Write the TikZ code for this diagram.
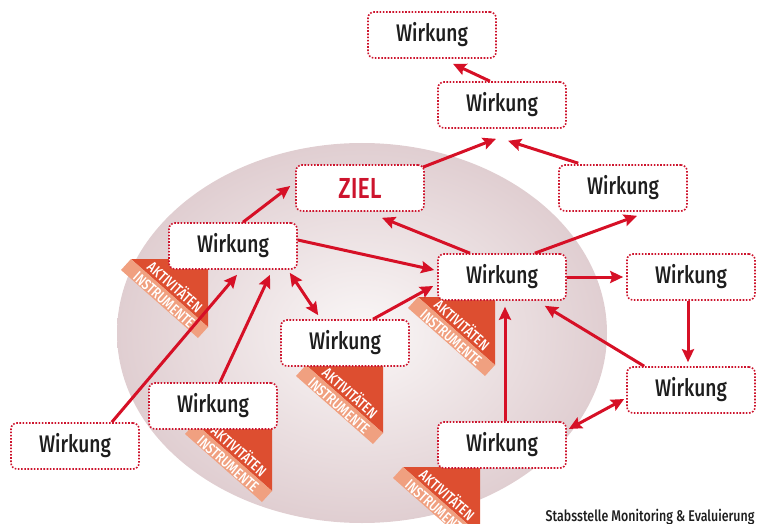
\documentclass[tikz,border=0pt]{standalone}
\usepackage{fontspec}
\setmainfont{Fira Sans}
\newfontfamily\boxfont{Fira Sans}[UprightFont=* Medium,FakeStretch=0.8]
\newfontfamily\tagfont{Fira Sans}[UprightFont=* Medium,FakeStretch=0.8]
\usetikzlibrary{arrows.meta,calc}
\definecolor{boxred}{RGB}{205,20,45}
\definecolor{arrred}{RGB}{214,16,38}
\definecolor{textgray}{RGB}{30,30,30}
\definecolor{tagdark}{RGB}{221,78,48}
\definecolor{taglight}{RGB}{240,160,128}
\definecolor{ellin}{RGB}{250,247,247}
\definecolor{ellout}{RGB}{224,206,209}
\begin{document}
\begin{tikzpicture}[x=1pt,y=-1pt,
    box/.style={draw=boxred,line width=1.6pt,dash pattern=on 1.6pt off 1.6pt,fill=white,rounded corners=6pt,minimum width=128pt,minimum height=46pt,text=textgray,font=\boxfont\fontsize{24}{24}\selectfont},
    arr/.style={draw=arrred,line width=3pt,-{Stealth[length=13pt,width=12pt,inset=2pt]}},
    both/.style={arr,{Stealth[length=13pt,width=12pt,inset=2pt]}-{Stealth[length=13pt,width=12pt,inset=2pt]}},
    tagtext/.style={text=white,rotate=-41.4,inner sep=0pt,font=\tagfont\fontsize{15}{15}\selectfont}]
    \useasboundingbox (0,0) rectangle (761,524);
    \shade[inner color=ellin,outer color=ellout] (362,333) ellipse [x radius=245,y radius=190];
    \foreach \bx/\by in {208/259,495/297,383/365,272/423,480/467} {
        \fill[tagdark] (\bx-77,\by) -- (\bx,\by) -- (\bx,\by+68) -- cycle;
        \fill[taglight] (\bx-77,\by) -- (\bx,\by+68) -- (\bx-10,\by+79) -- (\bx-87,\by+11) -- cycle;
        \node[tagtext] (akt-\bx) at (\bx-32,\by+27) {AKTIVITÄTEN};
        \node[tagtext] (ins-\bx) at (\bx-44,\by+41) {INSTRUMENTE};
    }
    \node[box] (w1) at (432,35) {Wirkung};
    \node[box] (w2) at (502,105) {Wirkung};
    \node[box,text=boxred,font=\boxfont\fontsize{29}{29}\selectfont] (ziel) at (360,188) {ZIEL};
    \node[box] (w3) at (623,188) {Wirkung};
    \node[box] (wl) at (233,246) {Wirkung};
    \node[box] (wc) at (502,277) {Wirkung};
    \node[box] (wr) at (691,277) {Wirkung};
    \node[box] (wm) at (345,343) {Wirkung};
    \node[box] (wrb) at (691,390) {Wirkung};
    \node[box] (wbl) at (213,406) {Wirkung};
    \node[box] (wbc) at (502,445) {Wirkung};
    \node[box] (wfl) at (75,446) {Wirkung};
    \draw[arr] ($(w2.north)+(-12,0)$) -- ($(w1.south)+(21,5)$);
    \draw[arr] ($(ziel.north east)+(-2,3)$) -- ($(w2.south)+(-6,10)$);
    \draw[arr] ($(w3.north west)+(20,-1)$) -- ($(w2.south)+(6,12)$);
    \draw[arr] ($(wl.north)+(10,0)$) -- ($(ziel.west)+(-5,-2)$);
    \draw[arr] ($(wc.north)+(-32,0)$) -- ($(ziel.south)+(22,6)$);
    \draw[arr] ($(wc.north east)+(-32,0)$) -- ($(w3.south)+(14,4)$);
    \draw[arr] ($(wl.east)+(0,-6)$) -- ($(wc.west)+(-3,-7)$);
    \draw[both] ($(wl.south east)+(-8,3)$) -- ($(wm.north west)+(38,-4)$);
    \draw[arr] ($(wm.north)+(28,0)$) -- ($(wc.west)+(-4,9)$);
    \draw[arr] (wc.east) -- ($(wr.west)+(-3,0)$);
    \draw[arr] ($(wr.south)+(-3,0)$) -- ($(wrb.north)+(-3,-4)$);
    \draw[arr] ($(wrb.north west)+(18,0)$) -- ($(wc.south east)+(-22,5)$);
    \draw[arr] ($(wbc.north)+(3,0)$) -- ($(wc.south)+(3,6)$);
    \draw[both] ($(wbc.east)+(2,-16)$) -- ($(wrb.west)+(-2,9)$);
    \draw[arr] ($(wfl.north east)+(-28,0)$) -- ($(wl.south)+(4,5)$);
    \draw[arr] ($(wbl.north)+(7,0)$) -- ($(wl.south)+(37,5)$);
    \node[anchor=base east,text=textgray,font=\boxfont\fontsize{15.5}{15.5}\selectfont] (credit) at (758,521) {Stabsstelle Monitoring \& Evaluierung};
\end{tikzpicture}
\end{document}
